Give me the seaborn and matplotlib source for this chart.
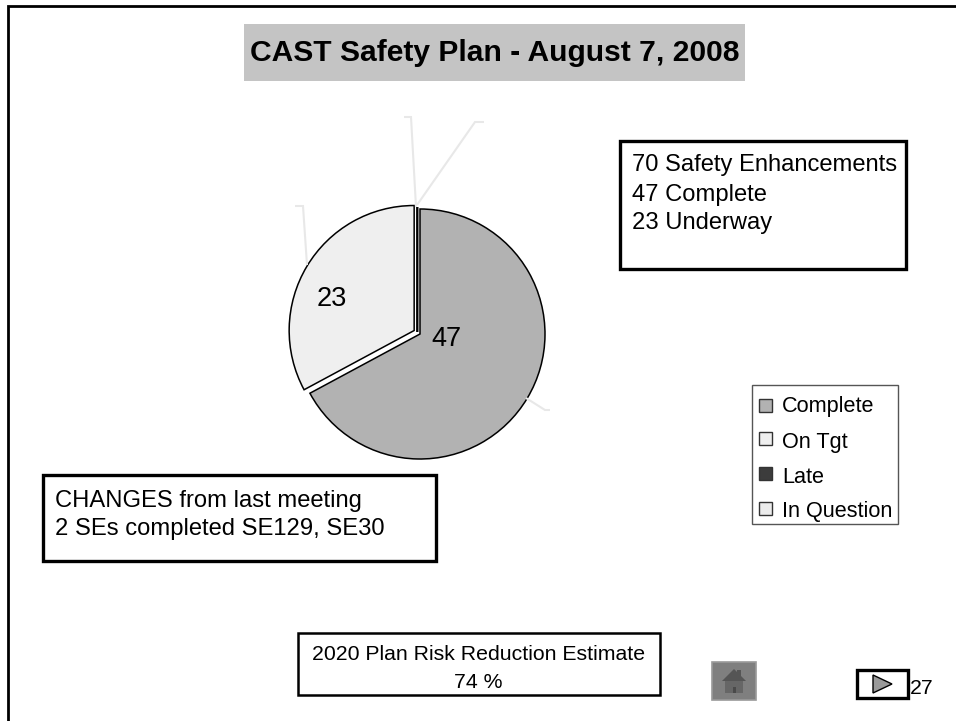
import matplotlib
matplotlib.use("Agg")
import matplotlib.pyplot as plt
from matplotlib.patches import Rectangle, Polygon
import seaborn as sns

categories = ["Complete", "On Tgt", "Late", "In Question"]
values = [47, 23, 0, 0]
colors = ["#b2b2b2", "#efefef", "#3c3c3c", "#ececec"]
title = "CAST Safety Plan - August 7, 2008"
summary = ["70 Safety Enhancements", "47 Complete", "23 Underway"]
changes = ["CHANGES from last meeting", "2 SEs completed SE129, SE30"]
estimate = ["2020 Plan Risk Reduction Estimate", "74 %"]
page = "27"

sns.set_theme(style="white")
plt.rcParams["font.family"] = ["Liberation Sans", "DejaVu Sans"]
plt.rcParams["text.color"] = "black"
W, H = 956, 721
fig = plt.figure(figsize=(W / 100, H / 100), dpi=100)
ax = fig.add_axes([0, 0, 1, 1])
Y = lambda p: H - p

def box(x0, y0, x1, y1, fc="white", ec="black", lw=2.4, z=3):
    ax.add_patch(Rectangle((x0, Y(y1)), x1 - x0, y1 - y0, fc=fc, ec=ec, lw=lw, zorder=z))

def poly(xs, ys, color="black", lw=1.0, z=3):
    ax.plot(xs, [Y(v) for v in ys], color=color, lw=lw, zorder=z, solid_capstyle="butt", solid_joinstyle="miter")

def label(x, py, s, size, ha="left", **kw):
    ax.text(x, Y(py), s, fontsize=size, ha=ha, va="center_baseline", zorder=5, **kw)

wedges, _ = ax.pie(values, colors=colors, startangle=90, counterclock=False, radius=125,
                   center=(420, Y(334)), explode=[0, 6.8, 0, 0],
                   wedgeprops=dict(edgecolor="black", linewidth=1.1), frame=False)
for w in wedges[2:]:
    w.set_center((417.3, Y(332)))
    w.set_linewidth(1.4)

ax.set_xlim(0, W)
ax.set_ylim(0, H)
ax.set_aspect("auto")
ax.axis("off")

# leader lines of the empty labels
lead = "#e8e8e8"
poly([416, 411, 404], [207, 117, 117], lead, 1.5, 1)
poly([417, 475, 484], [205, 122, 122], lead, 1.5, 1)
poly([307, 303, 295], [265, 206, 206], lead, 1.5, 1)
poly([526, 545, 550], [398, 410, 410], lead, 1.5, 1)

label(332, 296, str(values[1]), 19.5, ha="center")
label(446, 336, str(values[0]), 19.5, ha="center")

# outer frame: left and top rules only
poly([8.5, 8.5, 956], [721, 5.5, 5.5], "black", 2.0, 2)

# title
box(244, 24, 745, 81, fc="#c4c4c4", ec="none", lw=0)
label(495, 50, title, 21.6, ha="center", fontweight="bold")

# summary box
box(620, 141, 906, 269)
for t, py in zip(summary, [163, 192, 220]):
    label(632, py, t, 17.1)

# changes box
box(43, 475, 436, 561)
for t, py in zip(changes, [498, 527]):
    label(55, py, t, 17.1)

# estimate box
box(298, 633, 660, 695, lw=1.8)
for t, py in zip(estimate, [653, 680]):
    label(478.5, py, t, 15.3, ha="center")

# legend
box(752, 385, 898, 524, ec="#555555", lw=1.0)
for name, c, py, ty in zip(categories, colors, [405, 438, 473, 508], [404, 440, 475, 509]):
    ax.add_patch(Rectangle((759.5, Y(py + 6.5)), 13, 13, fc=c, ec="#333333", lw=1.0, zorder=5))
    label(782, ty, name, 15.6)

# home button
box(712, 662, 756, 700, fc="#7f7f7f", ec="#9a9a9a", lw=1.2)
ax.add_patch(Rectangle((737.5, Y(679)), 4, 9, fc="#555555", ec="none", zorder=6))
ax.add_patch(Polygon([(722, Y(681)), (734, Y(669)), (746, Y(681))], fc="#555555", ec="none", zorder=6))
ax.add_patch(Rectangle((725, Y(693)), 18, 12, fc="#666666", ec="none", zorder=6))
ax.add_patch(Rectangle((733, Y(693)), 3, 6, fc="#4a4a4a", ec="none", zorder=7))

# next button
box(857, 670, 908, 698, lw=2.4)
ax.add_patch(Polygon([(873, Y(675)), (873, Y(693)), (892, Y(684))], fc="#9a9a9a", ec="black", lw=1.0, zorder=6))
label(910, 686, page, 15.3)

fig.savefig("out.png", dpi=100, facecolor="white")
